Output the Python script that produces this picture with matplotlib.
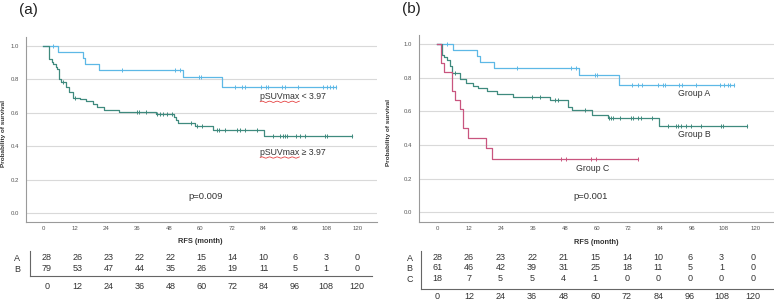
import numpy as np
import matplotlib
matplotlib.use("Agg")
import matplotlib.pyplot as plt
from matplotlib.lines import Line2D

plt.rcParams['font.family'] = ['Liberation Sans', 'DejaVu Sans']

W, H = 774, 304

# ---- data ----
# group A (pSUVmax < 3.97) - same curve in both panels
time_A = [0, 5.8, 15.1, 16.0, 21.2, 53.2, 68.3]
surv_A = [1.0, 0.964, 0.929, 0.893, 0.857, 0.814, 0.756]
cens_A = [3.8, 30.2, 50.3, 52.2, 59.3, 60.2, 73.2, 75.7, 77.0, 83.0, 85.0, 85.8,
          90.9, 92.2, 97.3, 106.6, 108.1, 109.3, 110.4, 111.6]

# group B left panel (pSUVmax >= 3.97)
time_B1 = [0, 2.2, 3.3, 3.9, 5.0, 5.5, 6.1, 7.0, 8.6, 9.8, 11.4, 14.0, 16.2,
           19.0, 20.6, 23.2, 29.1, 43.0, 49.9, 50.7, 51.3, 57.9, 64.9, 84.2]
surv_B1 = [1.0, 0.92, 0.905, 0.89, 0.875, 0.86, 0.80, 0.785, 0.757, 0.727, 0.69,
           0.68, 0.668, 0.652, 0.633, 0.617, 0.605, 0.595, 0.572, 0.557, 0.54,
           0.52, 0.50, 0.46]
cens_B1 = [7.7, 12.2, 35.9, 36.7, 39.2, 43.3, 44.6, 45.8, 47.1, 49.3, 56.3, 58.5,
           60.4, 66.2, 67.2, 69.3, 73.8, 75.0, 76.9, 81.4, 87.7, 90.3, 91.3, 92.2,
           93.1, 96.4, 97.9, 99.8, 107.4, 108.1, 117.6]

# group B right panel
time_B2 = [0, 1.6, 2.6, 3.5, 4.8, 5.6, 8.5, 10.7, 13.6, 15.2, 18.6, 22.4, 28.6,
           42.4, 49.3, 50.6, 58.1, 64.2, 83.5]
surv_B2 = [1.0, 0.935, 0.92, 0.905, 0.867, 0.826, 0.79, 0.77, 0.752, 0.738, 0.722,
           0.703, 0.685, 0.667, 0.625, 0.605, 0.578, 0.558, 0.513]
cens_B2 = [6.7, 35.5, 38.7, 44.3, 45.6, 55.6, 64.7, 65.4, 66.3, 68.8, 72.8, 73.8,
           75.7, 76.7, 80.7, 86.7, 89.8, 90.8, 91.8, 93.6, 95.5, 99.3, 106.8,
           107.7, 116.7]

# group C right panel
time_C = [0, 1.4, 2.6, 5.6, 6.7, 8.5, 9.8, 11.4, 18.3, 20.7]
surv_C = [1.0, 0.889, 0.833, 0.722, 0.667, 0.611, 0.50, 0.444, 0.381, 0.317]
cens_C = [46.4, 48.5, 57.7, 59.6, 75.7]

# numbers at risk
risk_times = [0, 12, 24, 36, 48, 60, 72, 84, 96, 108, 120]
risk_a = {'A': [28, 26, 23, 22, 22, 15, 14, 10, 6, 3, 0],
          'B': [79, 53, 47, 44, 35, 26, 19, 11, 5, 1, 0]}
risk_b = {'A': [28, 26, 23, 22, 21, 15, 14, 10, 6, 3, 0],
          'B': [61, 46, 42, 39, 31, 25, 18, 11, 5, 1, 0],
          'C': [18, 7, 5, 5, 4, 1, 0, 0, 0, 0, 0]}

c_A = '#5db8e6'
c_B = '#3f8a7e'
c_C = '#c9557f'
tick_col = '#555555'


def px_axes(x0, y0, x1, y1):
    return fig.add_axes([x0 / W, 1 - y1 / H, (x1 - x0) / W, (y1 - y0) / H])


def km(ax, times, surv, cens, col):
    end = max(cens[-1], times[-1])
    ax.step(times + [end], surv + [surv[-1]], where='post', color=col, lw=0.9)
    idx = np.searchsorted(times, cens, side='right') - 1
    cy = np.array(surv)[idx]
    ax.plot(cens, cy, ls='none', marker='|', ms=3.5, mew=0.7, color=col)


def style_main(ax, xlim, ylim):
    ax.set_xlim(*xlim)
    ax.set_ylim(*ylim)
    ax.set_xticks(risk_times)
    ax.set_yticks([0, 0.2, 0.4, 0.6, 0.8, 1.0])
    ax.set_yticklabels(['0.0', '0.2', '0.4', '0.6', '0.8', '1.0'])
    ax.grid(axis='y', color='#d9d9d9', lw=0.8)
    ax.set_axisbelow(True)
    for s in ['top', 'right']:
        ax.spines[s].set_visible(False)
    for s in ['left', 'bottom']:
        ax.spines[s].set_color('#9a9a9a')
        ax.spines[s].set_linewidth(0.8)
    ax.tick_params(axis='x', length=0, labelsize=4.3, labelcolor=tick_col, pad=3)
    ax.tick_params(axis='y', length=0, labelsize=4.3, labelcolor=tick_col, pad=5)
    ax.text(60, -0.108, 'RFS (month)', transform=ax.get_xaxis_transform(),
            ha='center', va='center', fontsize=5.3, fontweight='bold', color='#333333')


def style_table(ax, xlim, rows, ylim, pad_x, pad_y):
    ax.set_xlim(*xlim)
    ax.set_ylim(*ylim)
    ax.set_xticks(risk_times)
    ax.set_yticks(range(len(rows)))
    ax.set_yticklabels(list(rows.keys()))
    for s in ['top', 'right']:
        ax.spines[s].set_visible(False)
    for s in ['left', 'bottom']:
        ax.spines[s].set_color('#666666')
        ax.spines[s].set_linewidth(0.8)
    ax.tick_params(axis='x', length=0, labelsize=6.5, labelcolor='#333333', pad=pad_x)
    ax.tick_params(axis='y', length=0, labelsize=6.5, labelcolor='#333333', pad=pad_y)
    ax.patch.set_alpha(0)
    for i, (k, vals) in enumerate(rows.items()):
        for t, v in zip(risk_times, vals):
            ax.text(t, i, str(v), ha='center', va='center', fontsize=6.5, color='#333333')


def squiggle(ax, txt):
    # red spell-check underline under "pSUVmax"
    r = fig.canvas.get_renderer()
    bb = txt.get_window_extent(r)
    tmp = ax.text(0, 0, 'pSUVmax', fontsize=txt.get_fontsize())
    wbb = tmp.get_window_extent(r)
    tmp.remove()
    xs = np.linspace(bb.x0, bb.x0 + wbb.width, 60)
    ys = bb.y0 - 0.3 + 0.6 * np.sin((xs - bb.x0) / 1.2)
    inv = fig.transFigure.inverted()
    pts = inv.transform(np.column_stack([xs, ys]))
    fig.add_artist(Line2D(pts[:, 0], pts[:, 1], color='#e02020', lw=0.5,
                          transform=fig.transFigure))


fig = plt.figure(figsize=(W / 100, H / 100), dpi=100)

# ---- panel (a) ----
ax1 = px_axes(26, 37, 377, 222)
style_main(ax1, (-6.48, 127.2), (-0.054, 1.054))
km(ax1, time_A, surv_A, cens_A, c_A)
km(ax1, time_B1, surv_B1, cens_B1, c_B)
ax1.set_ylabel('Probability of survival', fontsize=4.6, fontweight='bold', color='#333333')
ax1.yaxis.set_label_coords(-0.058, 0.48)
lab1 = ax1.text(82.7, 0.695, 'pSUVmax < 3.97', fontsize=6.3, va='center', color='#333333')
lab2 = ax1.text(82.7, 0.361, 'pSUVmax \u2265 3.97', fontsize=6.3, va='center', color='#333333')
ax1.text(61.9, 0.098, 'p=0.009', fontsize=6.8, ha='center', va='center', color='#333333')

t1 = px_axes(30, 251, 372, 276)
style_table(t1, (-6.47, 125.9), risk_a, (1.726, -0.632), 4, 7)

# ---- panel (b) ----
ax2 = px_axes(419, 35, 774, 222)
style_main(ax2, (-6.89, 126.8), (-0.058, 1.053))
km(ax2, time_A, surv_A, cens_A, c_A)
km(ax2, time_B2, surv_B2, cens_B2, c_B)
km(ax2, time_C, surv_C, cens_C, c_C)
ax2.set_ylabel('Probability of survival', fontsize=4.6, fontweight='bold', color='#333333')
ax2.yaxis.set_label_coords(-0.08, 0.476)
ax2.text(90.6, 0.703, 'Group A', fontsize=6.3, va='center', color='#333333')
ax2.text(90.6, 0.459, 'Group B', fontsize=6.3, va='center', color='#333333')
ax2.text(52.2, 0.257, 'Group C', fontsize=6.3, va='center', color='#333333')
ax2.text(57.7, 0.091, 'p=0.001', fontsize=6.8, ha='center', va='center', color='#333333')

t2 = px_axes(421, 251, 774, 289)
style_table(t2, (-6.19, 127.9), risk_b, (3.04, -0.65), 2.5, 6)

fig.text(28 / W, 1 - 10 / H, '(a)', fontsize=11, ha='center', va='center', color='#222222')
fig.text(411 / W, 1 - 9 / H, '(b)', fontsize=11, ha='center', va='center', color='#222222')

fig.canvas.draw()
squiggle(ax1, lab1)
squiggle(ax1, lab2)

fig.savefig('out.png', dpi=100)
